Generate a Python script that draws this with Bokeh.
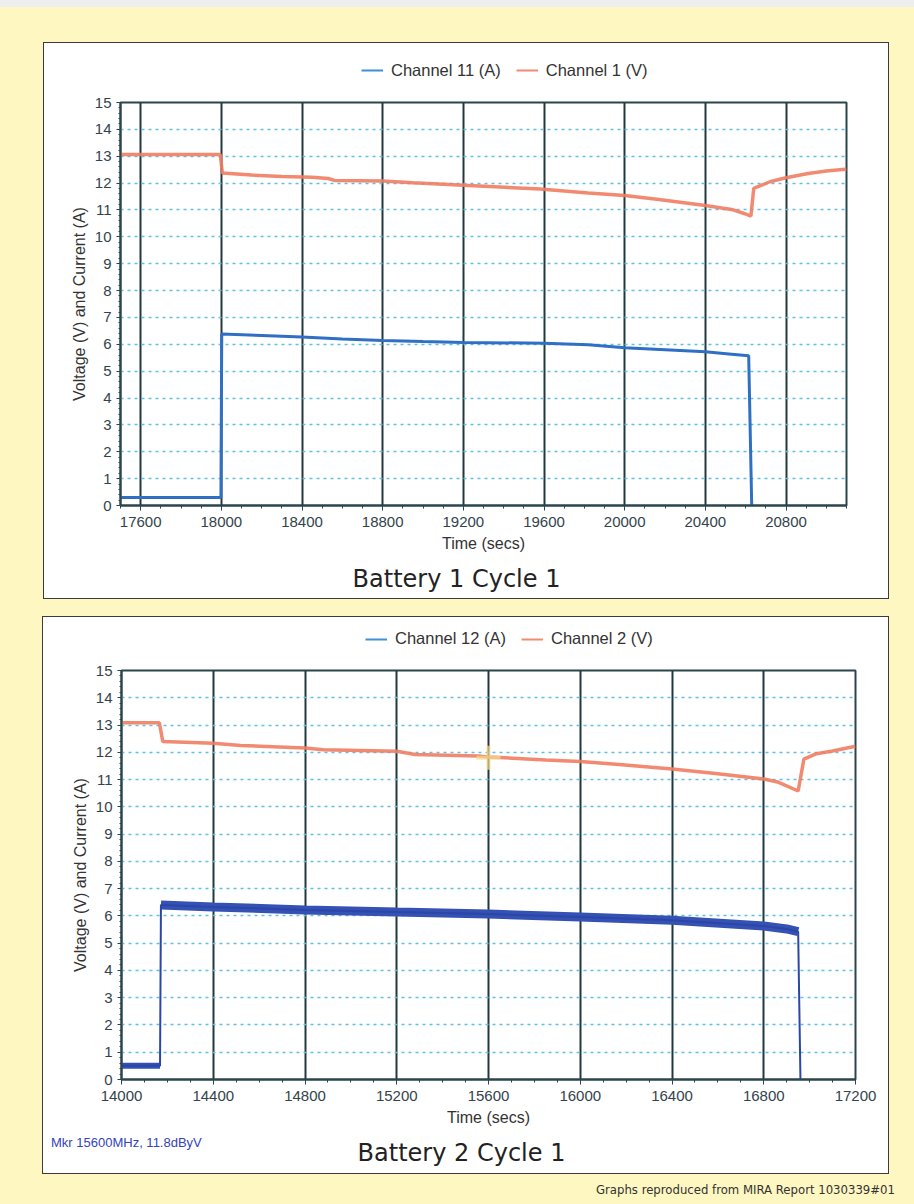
from bokeh.plotting import figure
from bokeh.models import FixedTicker, Legend, LegendItem, Div
from bokeh.layouts import column
from bokeh.embed import file_html
from bokeh.resources import INLINE

# ---------------- data: Battery 1 Cycle 1 ----------------
b1_volt_t = [17500, 17995, 18005, 18150, 18300, 18450, 18530, 18560, 18800, 18950,
             19200, 19580, 19820, 20000, 20170, 20400, 20530, 20600, 20626, 20640,
             20720, 20800, 20910, 21000, 21080, 21100]
b1_volt = [13.06, 13.06, 12.38, 12.30, 12.25, 12.22, 12.17, 12.10, 12.08, 12.01,
           11.92, 11.78, 11.63, 11.54, 11.39, 11.17, 11.02, 10.85, 10.77, 11.80,
           12.05, 12.20, 12.36, 12.45, 12.51, 12.52]
b1_curr_t = [17500, 17998, 18002, 18200, 18400, 18600, 18800, 19000, 19200, 19600,
             19820, 20000, 20200, 20400, 20530, 20615, 20630]
b1_curr = [0.30, 0.30, 6.38, 6.33, 6.27, 6.20, 6.14, 6.10, 6.07, 6.04,
           5.98, 5.87, 5.80, 5.72, 5.63, 5.57, 0.0]

# ---------------- data: Battery 2 Cycle 1 ----------------
b2_volt_t = [14000, 14165, 14180, 14400, 14520, 14800, 14880, 15200, 15280, 15555,
             15600, 15850, 16000, 16170, 16400, 16590, 16800, 16865, 16950, 16975,
             17030, 17100, 17200]
b2_volt = [13.08, 13.08, 12.40, 12.33, 12.25, 12.16, 12.09, 12.04, 11.92, 11.86,
           11.83, 11.72, 11.66, 11.55, 11.39, 11.22, 11.02, 10.90, 10.58, 11.75,
           11.95, 12.05, 12.22]
b2_curr_t = [14000, 14168, 14172, 14400, 14800, 15200, 15600, 16000, 16400, 16800,
             16900, 16950, 16960]
b2_curr = [0.50, 0.50, 6.40, 6.33, 6.22, 6.14, 6.07, 5.96, 5.84, 5.63,
           5.52, 5.42, 0.0]
b2_marker_t = [15600]
b2_marker_v = [11.8]

# ---------------- ticks / labels ----------------
x1_ticks = [17600, 18000, 18400, 18800, 19200, 19600, 20000, 20400, 20800]
x2_ticks = [14000, 14400, 14800, 15200, 15600, 16000, 16400, 16800, 17200]
y_ticks = [0, 1, 2, 3, 4, 5, 6, 7, 8, 9, 10, 11, 12, 13, 14, 15]
y_grid = [1, 2, 3, 4, 5, 6, 7, 8, 9, 10, 11, 12, 13, 14]
y_label = "Voltage (V) and Current (A)"
x_label = "Time (secs)"
legend1 = ["Channel 11 (A)", "Channel 1 (V)"]
legend2 = ["Channel 12 (A)", "Channel 2 (V)"]
title1 = "Battery 1 Cycle 1"
title2 = "Battery 2 Cycle 1"
marker_text = "Mkr 15600MHz, 11.8dByV"
footer_text = "Graphs reproduced from MIRA Report 1030339#01"

AX = "#2a464c"
GRID_V = "#22383e"
GRID_H = "#5fbfe4"
RED = "#ef7d62"
BLUE1 = "#2f6fc4"
BLUE2 = "#3551b3"
TXT = "#33434c"
FONT = "Liberation Sans"
BOX = {"border": "1.5px solid #3c3c3c", "background-color": "white"}


def style(p, xticks, xr):
    minor_x = list(range(int(xr[0]), int(xr[1]) + 1, 100))
    minor_y = [i / 5 for i in range(0, 76)]
    p.xaxis.ticker = FixedTicker(ticks=xticks, minor_ticks=minor_x)
    p.yaxis.ticker = FixedTicker(ticks=y_ticks, minor_ticks=minor_y)
    p.xgrid.ticker = FixedTicker(ticks=xticks)
    p.ygrid.ticker = FixedTicker(ticks=y_grid)
    p.xgrid.grid_line_color = GRID_V
    p.xgrid.grid_line_width = 2
    p.ygrid.grid_line_color = GRID_H
    p.ygrid.grid_line_width = 1.6
    p.ygrid.grid_line_dash = "3 4"
    p.outline_line_color = AX
    p.outline_line_width = 2
    for ax in (p.xaxis, p.yaxis):
        ax.axis_line_color = AX
        ax.axis_line_width = 2
        ax.major_tick_line_color = AX
        ax.minor_tick_line_color = AX
        ax.major_tick_in = 0
        ax.minor_tick_in = 0
        ax.major_label_text_font = FONT
        ax.major_label_text_font_size = "15px"
        ax.major_label_text_color = TXT
        ax.axis_label_text_font = FONT
        ax.axis_label_text_font_size = "16px"
        ax.axis_label_text_font_style = "normal"
        ax.axis_label_text_color = "#333333"
    p.xaxis.major_tick_out = 5
    p.xaxis.minor_tick_out = 3
    p.xaxis.major_label_standoff = 6
    p.xaxis.axis_label_standoff = 5
    p.yaxis.major_tick_out = 4
    p.yaxis.minor_tick_out = 2
    p.yaxis.major_label_standoff = 5
    p.yaxis.axis_label_standoff = 4
    p.xaxis.axis_label = x_label
    p.yaxis.axis_label = y_label


def panel(xr, xticks, vt, v, at, a, borders, size, band):
    left, right, top, bottom = borders
    p = figure(width=size[0], height=size[1], x_range=xr, y_range=(0, 15),
               output_backend="svg", toolbar_location=None,
               min_border_left=left, min_border_right=right,
               min_border_top=top, min_border_bottom=bottom,
               background_fill_color="white", border_fill_color="white")
    style(p, xticks, xr)
    p.line(vt, v, line_color=RED, line_width=3.5, line_alpha=0.9)
    if band:
        p.line(at[:2], a[:2], line_color=BLUE2, line_width=6)
        p.line(at[2:-1], a[2:-1], line_color=BLUE2, line_width=9)
        p.line(at, a, line_color="#2b46a8", line_width=2)
    else:
        p.line(at, a, line_color=BLUE1, line_width=3)
    return p


def legend_strip(names, width, height, loc):
    lf = figure(width=width, height=height, x_range=(0, 1), y_range=(0, 1),
                output_backend="svg", toolbar_location=None,
                x_axis_location=None, y_axis_location=None,
                min_border=0, min_border_left=0, min_border_right=0,
                min_border_top=0, min_border_bottom=0,
                outline_line_color=None, background_fill_color="white",
                border_fill_color="white")
    lf.xgrid.visible = False
    lf.ygrid.visible = False
    lb = lf.line([0.5], [float("nan")], line_color="#3d8fd8", line_width=2)
    lr = lf.line([0.5], [float("nan")], line_color="#f28b73", line_width=2)
    leg = Legend(items=[LegendItem(label=names[0], renderers=[lb]),
                        LegendItem(label=names[1], renderers=[lr])],
                 orientation="horizontal", location=loc,
                 border_line_color=None, background_fill_alpha=0,
                 padding=0, margin=0, spacing=15, glyph_width=22,
                 glyph_height=14, label_height=14, label_standoff=8,
                 label_text_font=FONT, label_text_font_size="16.5px",
                 label_text_color="#333333")
    lf.add_layout(leg)
    return lf


l1 = legend_strip(legend1, 844, 47, (241, 10.5))
p1 = panel((17500, 21100), x1_ticks, b1_volt_t, b1_volt, b1_curr_t, b1_curr,
           (76, 42, 12, 55), (844, 470), False)

l2 = legend_strip(legend2, 845, 41, (244, 10))
p2 = panel((14000, 17200), x2_ticks, b2_volt_t, b2_volt, b2_curr_t, b2_curr,
           (78, 33, 12, 52), (845, 473), True)
p2.scatter(b2_marker_t, b2_marker_v, marker="cross", size=24,
           line_color="#f6dc8c", line_width=4, line_alpha=0.7)

t1 = Div(text=title1, width=825, height=38, margin=0,
         styles={"text-align": "center", "font-family": "DejaVu Sans",
                 "font-size": "24px", "line-height": "39px", "color": "#222222"})

t2 = Div(text=(
    '<div style="position:relative;width:845px;height:42px;">'
    '<span style="position:absolute;left:8px;top:5px;font-family:\'Liberation Sans\';'
    'font-size:13px;line-height:14px;color:#3344bb;white-space:nowrap;">'
    + marker_text + '</span>'
    '<div style="position:absolute;left:0;top:3px;width:837px;text-align:center;'
    'font-family:\'DejaVu Sans\';font-size:24px;line-height:39px;color:#222222;">'
    + title2 + '</div></div>'), width=845, height=42, margin=0)

box1 = column(l1, p1, t1, styles=BOX, margin=(35, 0, 0, 43))
box2 = column(l2, p2, t2, styles=BOX, margin=(17, 0, 0, 42))

footer = Div(text=footer_text, width=895, height=18, margin=(7, 0, 0, 0),
             styles={"text-align": "right",
                     "font-family": "'DejaVu Sans Condensed', Roboto, sans-serif",
                     "font-size": "13px", "line-height": "18px", "color": "#333333"})

layout = column(box1, box2, footer)

html = file_html(layout, INLINE)
css = ("<style>html{background:#fff7c2;} body{background:#fff7c2 !important;"
       "border-top:7px solid #eeeeee; overflow:hidden;}</style>")
html = html.replace("</head>", css + "</head>", 1)
open("out.html", "w").write(html)
